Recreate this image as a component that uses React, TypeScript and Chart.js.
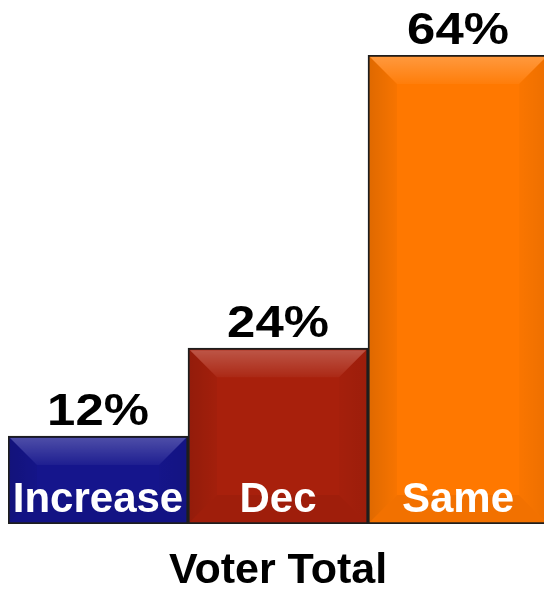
import React, { useEffect, useRef } from "react";
import { Chart, registerables } from "chart.js";

Chart.register(...registerables);

const categories = ["Increase", "Dec", "Same"];
const values = [12, 24, 64];
const valueLabels = ["12%", "24%", "64%"];
const barColors = ["#15158c", "#a8200c", "#ff7800"];
const axisTitle = "Voter Total";

const FONT = '"Liberation Sans", Arial, Helvetica, sans-serif';

const bevelPlugin = {
  id: "bevel",
  afterDatasetsDraw(chart: any) {
    const ctx = chart.ctx as CanvasRenderingContext2D;
    const meta = chart.getDatasetMeta(0);
    const bw = 2;
    meta.data.forEach((el: any) => {
      const { x, y, base, width } = el.getProps(["x", "y", "base", "width"], true);
      const x0 = x - width / 2 + bw;
      const x1 = x + width / 2 - bw;
      const y0 = y + bw;
      const y1 = base - bw;
      const b = Math.min(27, (x1 - x0) / 2, (y1 - y0) / 2);
      ctx.save();
      const gTop = ctx.createLinearGradient(0, y0, 0, y0 + b);
      gTop.addColorStop(0, "rgba(255,255,255,0.24)");
      gTop.addColorStop(1, "rgba(255,255,255,0.04)");
      ctx.fillStyle = gTop;
      ctx.beginPath();
      ctx.moveTo(x0, y0);
      ctx.lineTo(x1, y0);
      ctx.lineTo(x1 - b, y0 + b);
      ctx.lineTo(x0 + b, y0 + b);
      ctx.closePath();
      ctx.fill();
      const gLeft = ctx.createLinearGradient(x0, 0, x0 + b, 0);
      gLeft.addColorStop(0, "rgba(0,0,0,0.12)");
      gLeft.addColorStop(1, "rgba(0,0,0,0.03)");
      ctx.fillStyle = gLeft;
      ctx.beginPath();
      ctx.moveTo(x0, y0);
      ctx.lineTo(x0 + b, y0 + b);
      ctx.lineTo(x0 + b, y1 - b);
      ctx.lineTo(x0, y1);
      ctx.closePath();
      ctx.fill();
      const gRight = ctx.createLinearGradient(x1, 0, x1 - b, 0);
      gRight.addColorStop(0, "rgba(0,0,0,0.07)");
      gRight.addColorStop(1, "rgba(0,0,0,0.02)");
      ctx.fillStyle = gRight;
      ctx.beginPath();
      ctx.moveTo(x1, y0);
      ctx.lineTo(x1 - b, y0 + b);
      ctx.lineTo(x1 - b, y1 - b);
      ctx.lineTo(x1, y1);
      ctx.closePath();
      ctx.fill();
      ctx.fillStyle = "rgba(0,0,0,0.05)";
      ctx.beginPath();
      ctx.moveTo(x0, y1);
      ctx.lineTo(x0 + b, y1 - b);
      ctx.lineTo(x1 - b, y1 - b);
      ctx.lineTo(x1, y1);
      ctx.closePath();
      ctx.fill();
      ctx.restore();
    });
  },
};

const labelPlugin = {
  id: "barLabels",
  afterDraw(chart: any) {
    const ctx = chart.ctx as CanvasRenderingContext2D;
    const meta = chart.getDatasetMeta(0);
    meta.data.forEach((el: any, i: number) => {
      const { x, y, base } = el.getProps(["x", "y", "base"], true);
      ctx.save();
      ctx.fillStyle = "#000";
      ctx.textAlign = "center";
      ctx.textBaseline = "alphabetic";
      ctx.font = `bold 45px ${FONT}`;
      ctx.translate(x, y - 11);
      ctx.scale(1.13, 1);
      ctx.fillText(valueLabels[i], 0, 0);
      ctx.restore();

      ctx.save();
      ctx.fillStyle = "#fff";
      ctx.textAlign = "center";
      ctx.textBaseline = "alphabetic";
      ctx.font = `bold 42px ${FONT}`;
      ctx.fillText(chart.data.labels[i], x, base - 12);
      ctx.restore();
    });
  },
};

export default function App() {
  const ref = useRef<HTMLCanvasElement | null>(null);

  useEffect(() => {
    if (!ref.current) return;
    const chart = new Chart(ref.current, {
      type: "bar",
      data: {
        labels: categories,
        datasets: [
          {
            data: values,
            backgroundColor: barColors,
            borderColor: "#1e1e1e",
            borderWidth: 2,
            borderSkipped: false,
            barPercentage: 1,
            categoryPercentage: 1,
          },
        ],
      },
      options: {
        responsive: false,
        animation: false,
        layout: { padding: { left: 8, right: 0, top: 55, bottom: 0 } },
        plugins: {
          legend: { display: false },
          tooltip: { enabled: false },
        },
        scales: {
          x: {
            grid: { display: false, drawTicks: false },
            border: { display: false },
            ticks: { display: false },
            title: {
              display: true,
              text: axisTitle,
              color: "#000",
              font: { family: FONT, size: 43, weight: "bold", lineHeight: 1 },
              padding: { top: 26, bottom: 0 },
            },
          },
          y: {
            display: false,
            min: 0,
            max: 64,
          },
        },
      },
      plugins: [bevelPlugin, labelPlugin],
    });
    return () => chart.destroy();
  }, []);

  return (
    <div
      style={{
        position: "fixed",
        left: 0,
        top: 0,
        width: 544,
        height: 593,
        overflow: "hidden",
        background: "#fff",
      }}
    >
      <canvas ref={ref} width={548} height={593} style={{ display: "block" }} />
    </div>
  );
}
